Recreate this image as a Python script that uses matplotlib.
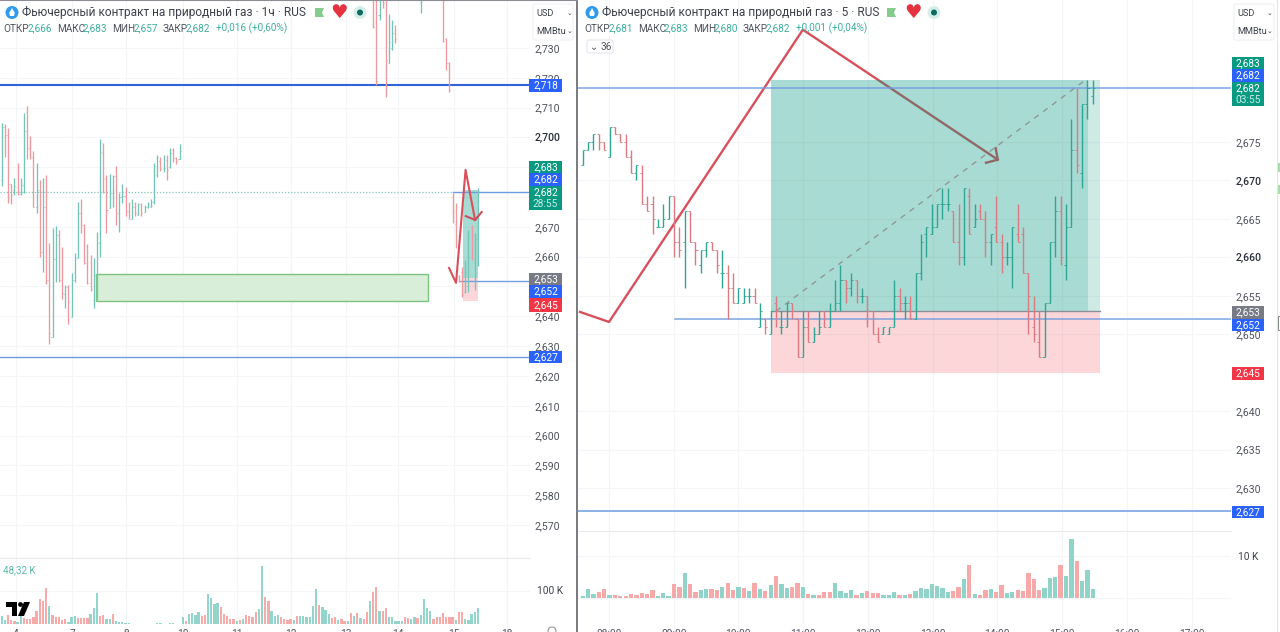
import matplotlib
matplotlib.use("Agg")
import matplotlib.pyplot as plt
from matplotlib.patches import Rectangle, FancyBboxPatch, Circle, Polygon

plt.rcParams['font.family'] = ['Roboto', 'DejaVu Sans']

# ---------- 1h panel data (prices in thousandths) ----------
h1_idx = list(range(57)) + [117, 118, 119, 120, 121, 122, 123, 124, 132, 139, 140, 141,
                            142, 143, 144, 145, 146, 147, 148, 149, 150]
h1_open = [2685.7, 2703.6, 2700.8, 2684.4, 2682.4, 2683.3, 2681.0, 2684.0, 2702.3, 2696.3,
           2693.5, 2676.8, 2682.2, 2661.7, 2676.8, 2652.2, 2633.2, 2659.2, 2667.3, 2652.2,
           2647.5, 2649.7, 2639.7, 2652.2, 2659.4, 2674.5, 2670.6, 2657.8, 2651.3, 2645.5,
           2653.9, 2664.5, 2694.7, 2686.3, 2676.2, 2681.3, 2687.1, 2674.5, 2680.1, 2680.4,
           2675.4, 2672.5, 2676.6, 2674.0, 2677.7, 2675.1, 2676.6, 2676.8, 2678.5, 2687.4,
           2692.2, 2689.3, 2692.4, 2690.2, 2695.8, 2693.0, 2692.7,
           2760, 2760, 2741, 2760, 2760, 2725, 2730, 2735, 2745, 2760, 2733, 2725,
           2680, 2671, 2653.5, 2655, 2648, 2650, 2668, 2654, 2666]
h1_high = [2704.7, 2704.5, 2703.0, 2684.4, 2686.5, 2691.3, 2686.5, 2708.3, 2710.5, 2700.5,
           2695.6, 2691.3, 2685.7, 2686.3, 2687.4, 2664.5, 2669.5, 2670.3, 2668.9, 2663.4,
           2650.5, 2650.5, 2654.4, 2661.3, 2678.5, 2679.2, 2671.0, 2664.3, 2660.6, 2659.4,
           2668.2, 2699.4, 2698.0, 2687.4, 2687.7, 2687.4, 2690.5, 2681.3, 2684.4, 2683.3,
           2678.5, 2679.2, 2678.5, 2678.1, 2678.1, 2677.5, 2678.5, 2679.2, 2691.3, 2694.1,
           2693.3, 2694.1, 2694.1, 2696.3, 2696.6, 2693.5, 2697.7,
           2765, 2765, 2765, 2765, 2765, 2741.4, 2739.4, 2737.7, 2765, 2765, 2733.2, 2725.4,
           2681.2, 2678.1, 2653.8, 2656.6, 2658.9, 2668.9, 2670.6, 2667.8, 2683]
h1_low = [2683.7, 2693.5, 2677.9, 2677.7, 2680.7, 2680.7, 2680.7, 2681.3, 2692.7, 2692.7,
          2676.6, 2674.5, 2660.0, 2654.8, 2650.8, 2630.7, 2633.0, 2651.6, 2651.6, 2645.7,
          2642.7, 2637.4, 2639.7, 2651.6, 2659.4, 2667.8, 2657.6, 2650.8, 2648.6, 2642.7,
          2645.5, 2660.0, 2681.3, 2667.8, 2676.2, 2676.6, 2670.6, 2668.4, 2677.9, 2673.7,
          2672.5, 2672.5, 2673.7, 2674.0, 2673.7, 2675.1, 2676.2, 2676.6, 2677.7, 2686.6,
          2688.9, 2688.5, 2685.7, 2689.6, 2691.9, 2691.1, 2692.7,
          2736.6, 2717.6, 2739.4, 2743.3, 2713.7, 2724.9, 2729.3, 2731.6, 2741.6, 2732.1, 2722.6, 2715.4,
          2671.2, 2662.8, 2651.6, 2646.6, 2647.7, 2648.2, 2658.9, 2648.8, 2657]
h1_close = [2703.6, 2700.8, 2684.4, 2680.7, 2683.7, 2681.0, 2684.0, 2702.3, 2696.3, 2693.5,
            2676.8, 2682.2, 2661.7, 2676.8, 2652.2, 2634.3, 2659.2, 2667.3, 2652.2, 2647.7,
            2649.7, 2644.7, 2652.2, 2659.4, 2674.5, 2670.6, 2657.8, 2651.3, 2649.0, 2653.9,
            2664.5, 2695.2, 2686.0, 2675.7, 2681.3, 2687.1, 2674.5, 2680.1, 2680.4, 2675.4,
            2672.5, 2676.6, 2674.8, 2677.7, 2674.5, 2676.8, 2677.3, 2678.5, 2690.5, 2693.5,
            2689.3, 2689.6, 2689.1, 2694.9, 2693.0, 2692.1, 2695.6,
            2737, 2719, 2760, 2745, 2726, 2732, 2735, 2733, 2760, 2732.5, 2725, 2716,
            2675, 2667, 2652, 2647, 2655, 2660, 2664, 2666, 2682]
h1_vol = [25, 12, 28, 12, 10, 5, 25, 18, 14, 15, 22, 40, 75, 68, 107, 55, 28, 22, 22, 12,
          15, 5, 20, 25, 18, 17, 17, 17, 30, 48, 92, 25, 27, 15, 15, 30, 10, 7, 7, 3,
          2, 1, 1, 1, 1, 1, 1, 1, 1, 2, 2, 1, 1, 2, 2, 1, 1, 20, 10, 30,
          33, 28, 35, 25, 28, 90, 78, 60, 62, 50, 30, 25, 15, 15, 10, 12, 15, 28, 25, 22,
          35, 45, 175, 80, 68, 38, 25, 28, 20, 15, 12, 15, 12, 25, 25, 25, 22, 20, 55, 105,
          58, 50, 42, 30, 18, 20, 12, 15, 10, 8, 32, 25, 32, 18, 15, 35, 68, 95, 110, 40,
          40, 48, 20, 20, 10, 8, 8, 22, 18, 15, 20, 18, 28, 75, 48, 38, 15, 22, 22, 32,
          20, 20, 22, 12, 35, 35, 15, 13, 30, 35, 48.32]
h1_vol_dir = ("ggrrrggrrr" "rrrrrgrrrr" "rgggrrrrgg" "grrggrgggg" "gggggggggg"
              "ggggggggrg" "gggrrggggr" "rrrrgrgrrr" "rggrrgggrr" "rrgrgggggg"
              "rgggrrgrrg" "rgrgrrgrrg" "rrgggggrrg" "grggggrrrr" "rrrgrrggggg")

# ---------- 5m panel data (thousandths above 2,000) ----------
M5_BASE = 2000
m5_open = [672, 674, 675, 676, 675, 673, 677, 676, 675, 673, 671, 671, 667, 667, 664, 664, 665, 668, 662, 662,
           666, 662, 659, 661, 662, 661, 658, 658, 656, 654, 654, 655, 655, 651, 652, 650, 654, 651, 651, 654,
           652, 647, 651, 649, 650, 653, 651, 653, 654, 657, 656, 657, 655, 655, 653, 650, 650, 650, 651, 655,
           654, 654, 652, 658, 663, 663, 664, 667, 667, 666, 662, 660, 668, 664, 666, 665, 662, 664, 662, 660,
           660, 663, 663, 658, 651, 649, 647, 654, 662, 666, 659, 664, 674, 671, 680, 681]
m5_high = [674, 675, 676, 676, 675, 677, 677, 676, 676, 674, 672, 672, 668, 668, 665, 667, 668, 668, 664, 666,
           666, 662, 661, 662, 662, 661, 661, 659, 658, 656, 656, 656, 656, 654, 652, 653, 655, 653, 654, 654,
           652, 653, 653, 651, 653, 653, 654, 657, 659, 657, 658, 657, 656, 655, 653, 651, 651, 651, 657, 656,
           655, 655, 658, 663, 664, 667, 667, 669, 669, 666, 667, 669, 669, 667, 667, 666, 663, 668, 663, 662,
           664, 667, 664, 658, 655, 653, 654, 662, 668, 668, 667, 678, 682, 680, 683, 683]
m5_low = [672, 674, 674, 674, 674, 673, 676, 675, 673, 671, 670, 667, 666, 663, 664, 664, 665, 660, 660, 656,
          662, 659, 658, 660, 661, 658, 656, 652, 654, 654, 654, 654, 654, 651, 650, 650, 651, 650, 651, 652,
          647, 647, 649, 649, 650, 651, 651, 653, 653, 654, 655, 654, 654, 651, 650, 649, 650, 650, 651, 653,
          652, 652, 652, 657, 660, 663, 664, 665, 666, 662, 659, 659, 663, 664, 665, 660, 659, 662, 658, 659,
          656, 662, 658, 650, 649, 647, 647, 654, 660, 659, 657, 664, 671, 669, 678, 680]
m5_close = [674, 675, 676, 675, 674, 677, 676, 675, 673, 671, 672, 667, 666, 665, 664, 665, 668, 662, 661, 666,
            662, 661, 661, 662, 661, 659, 658, 656, 654, 656, 655, 655, 654, 653, 651, 653, 653, 651, 654, 653,
            647, 651, 649, 650, 651, 651, 653, 654, 657, 656, 657, 655, 655, 653, 650, 649, 651, 651, 655, 654,
            654, 652, 658, 662, 664, 664, 667, 667, 667, 662, 660, 669, 663, 665, 665, 662, 663, 662, 660, 660,
            664, 662, 658, 655, 650, 647, 654, 662, 666, 660, 664, 674, 672, 680, 682, 682]
m5_vol = [.48, 2.24, .96, 1.44, 2.08, .64, .64, .4, .56, .96,
          .8, 1.2, 1.04, 1.84, .56, 1.2, .56, 3.44, 2.56, 6.0,
          3.44, 1.36, 1.92, 2.08, 2.16, 1.84, 2.72, 3.6, 1.92, 2.64,
          2.48, 1.76, 3.6, 2.08, 1.6, 3.04, 5.36, 3.44, 2.4, 2.72,
          3.6, 2.64, .96, .8, .8, 1.36, 1.44, 3.6, 1.76, 1.2,
          1.92, .64, 1.2, 1.76, 1.2, 1.28, .8, .64, 1.36, .64,
          .64, .96, 1.76, 2.4, 2.24, 3.44, 2.8, 2.4, 1.44, 1.6,
          2.64, 4.64, 7.84, 1.04, .64, 1.84, 2.16, 1.36, 3.2, 1.2,
          1.44, 1.92, 1.76, 6.0, 4.56, 1.92, 2.4, 4.8, 4.96, 7.84,
          5.2, 14.24, 8.96, 4.0, 6.8, 2.16]
m5_vol_dir = ("gggrrgrrrr" "rrrrgggrrg" "rrggrrgrrg" "rgrgrgrggr" "rgrgrrrggg"
              "grgrrrgggr" "grgggggggr" "rgrgrrgrrg" "grrrrrgggr" "ggrggg")

h1_ticks = [2730, 2720, 2710, 2700, 2690, 2680, 2670, 2660, 2650, 2640, 2630, 2620, 2610, 2600, 2590, 2580, 2570]
m5_ticks = [2675, 2670, 2665, 2660, 2655, 2650, 2640, 2635, 2630]
h1_bold = [2700]
m5_bold = [2670, 2660]
h1_grid_x = [16, 72, 126, 183, 237, 291, 346, 398, 454, 507]
h1_xlabels = ['4', '7', '8', '10', '11', '12', '13', '14', '15', '18']
m5_grid_x = [609, 674, 738, 803, 868, 933, 997, 1062, 1127, 1192]
m5_xlabels = ['08:00', '09:00', '10:00', '11:00', '12:00', '13:00', '14:00', '15:00', '16:00', '17:00']

W, H = 1280, 632
fig = plt.figure(figsize=(W / 100, H / 100), dpi=100, facecolor='white')


def pane(x0, y0, x1, y1):
    ax = fig.add_axes([x0 / W, 1 - y1 / H, (x1 - x0) / W, (y1 - y0) / H])
    for s in ax.spines.values():
        s.set_visible(False)
    return ax


L_X0, L_DX = 1.7, 3.175
R_X0, R_DX = 582.7, 5.37
GRID = '#f4f5f7'
TXT = '#50535e'


def ohlc(ax, xs, o, h, l, c, green, red, tick, lw):
    for x, a, b, d, e in zip(xs, o, h, l, c):
        col = green if e >= a else red
        ax.plot([x, x], [d, b], color=col, lw=lw, solid_capstyle='butt', zorder=5)
        ax.plot([x - tick, x], [a, a], color=col, lw=lw * .65, solid_capstyle='butt', zorder=5)
        ax.plot([x, x + tick], [e, e], color=col, lw=lw * .65, solid_capstyle='butt', zorder=5)


def setup_price(ax, ticks, bold, gridx, x0, dx, pad):
    ax.yaxis.tick_right()
    ax.set_yticks(ticks)
    ax.set_yticklabels([f"{t / 1000:.3f}".replace('.', ',') for t in ticks], fontsize=7.6, color=TXT)
    for lab, t in zip(ax.get_yticklabels(), ticks):
        if t in bold:
            lab.set_color('#2a2e39')
            lab.set_fontweight('medium')
    ax.tick_params(axis='y', length=0, pad=pad)
    ax.set_xticks([(g - x0) / dx for g in gridx])
    ax.tick_params(axis='x', length=0, labelbottom=False)
    ax.grid(True, color=GRID, lw=.8, zorder=0)
    ax.set_axisbelow(True)


# ========== left price pane ==========
ax1 = pane(0, 0, 530, 557)
ax1.set_xlim((0 - L_X0) / L_DX, (530 - L_X0) / L_DX)
ax1.set_ylim(2730 - (557 - 48) / 2.981, 2730 + 48 / 2.981)
setup_price(ax1, h1_ticks, h1_bold, h1_grid_x, L_X0, L_DX, 3)
ax1.add_patch(Rectangle((145.3, 2653), 4.8, 29.5, fc='#089981', alpha=.35, lw=0, zorder=2))
ax1.add_patch(Rectangle((145.3, 2645), 4.8, 8, fc='#f23645', alpha=.2, lw=0, zorder=2))
ax1.add_patch(Rectangle((29.7, 2645.1), 104.6, 9.1, fc='#d8eed8', ec='#7cc47f', lw=1, zorder=3))
ax1.axhline(2717.5, color='#2f63d8', lw=1.5, zorder=4)
ax1.axhline(2626.5, color='#6f9ce0', lw=1, zorder=4)
ax1.plot([(0 - L_X0) / L_DX, 142.2], [2681.7, 2681.7], color='#7cc8bd', lw=.9, ls=(0, (1, 1.5)), zorder=2)
ax1.plot([142.2, 166], [2681.7, 2681.7], color='#6f9ce0', lw=1, zorder=4)
ax1.plot([144, 166], [2651.7, 2651.7], color='#6f9ce0', lw=1, zorder=4)
ohlc(ax1, h1_idx, h1_open, h1_high, h1_low, h1_close, '#74c4b8', '#ee98a0', .33, .95)
ax1.plot([140.9, 143.1, 146.1, 149.1], [2656.2, 2651.2, 2689.1, 2672.3], color='#d8505c', lw=1.5, zorder=6)
ax1.plot([146.2, 149.1, 151.2], [2673.6, 2672.3, 2675.0], color='#c9505c', lw=1.5, zorder=6)

# ========== left volume pane ==========
av1 = pane(0, 557, 530, 632)
av1.set_xlim((0 - L_X0) / L_DX, (530 - L_X0) / L_DX)
av1.set_ylim(-24, 201)
av1.set_xticks([(g - L_X0) / L_DX for g in h1_grid_x])
av1.set_yticks([100])
av1.tick_params(length=0, labelbottom=False, labelleft=False)
av1.grid(True, color=GRID, lw=.8)
av1.set_axisbelow(True)
av1.bar(range(len(h1_vol)), h1_vol, width=.72,
        color=['#94d5cb' if d == 'g' else '#f6aaa9' for d in h1_vol_dir], lw=0, zorder=3)

# ========== right price pane ==========
ax2 = pane(578, 0, 1231, 530)
ax2.set_xlim((578 - R_X0) / R_DX, (1231 - R_X0) / R_DX)
ax2.set_ylim(2675 - (530 - 142) / 7.69, 2675 + 142 / 7.69)
setup_price(ax2, m5_ticks, m5_bold, m5_grid_x, R_X0, R_DX, 3)
ax2.plot([-0.5, 4.9, 41, 77.3], [2652.9, 2651.6, 2689.6, 2672.7], color='#d8505c', lw=1.7, zorder=1.5)
ax2.plot([75.1, 77.3, 76.9], [2672.3, 2672.7, 2674.2], color='#d8505c', lw=1.7, zorder=1.5)
ax2.add_patch(Rectangle((35, 2653), 59.1, 30, fc='#089981', alpha=.35, lw=0, zorder=2))
ax2.add_patch(Rectangle((94.1, 2653), 2.2, 30, fc='#089981', alpha=.2, lw=0, zorder=2))
ax2.add_patch(Rectangle((35, 2645), 61.3, 8, fc='#f23645', alpha=.2, lw=0, zorder=2))
ax2.plot([35, 96.3], [2653, 2653], color='#8c8f9a', lw=1, zorder=3)
ax2.plot([36, 93.5], [2653, 2683], color='#8f9a98', lw=1, ls=(0, (4, 4)), zorder=3)
ax2.axhline(2682, color='#6f9ce0', lw=1.1, alpha=.9, zorder=4)
ax2.plot([17.1, 125], [2652, 2652], color='#6f9ce0', lw=1.1, alpha=.9, zorder=4)
ax2.axhline(2627, color='#6f9ce0', lw=1.1, zorder=4)
ohlc(ax2, range(len(m5_open)),
     [v + M5_BASE for v in m5_open], [v + M5_BASE for v in m5_high],
     [v + M5_BASE for v in m5_low], [v + M5_BASE for v in m5_close],
     '#2fa594', '#dc7a82', .38, 1.0)

# ========== right volume pane ==========
av2 = pane(578, 530, 1231, 632)
av2.set_xlim((578 - R_X0) / R_DX, (1231 - R_X0) / R_DX)
av2.set_ylim(-8.15, 16.3)
av2.set_xticks([(g - R_X0) / R_DX for g in m5_grid_x])
av2.set_yticks([0, 10])
av2.tick_params(length=0, labelbottom=False, labelleft=False)
av2.grid(True, color=GRID, lw=.8)
av2.set_axisbelow(True)
av2.bar(range(len(m5_vol)), m5_vol, width=.8,
        color=['#8fd3c9' if d == 'g' else '#f6a9a8' for d in m5_vol_dir], lw=0, zorder=3)

# ========== overlay in pixel coordinates ==========
ov = fig.add_axes([0, 0, 1, 1], zorder=20)
ov.set_xlim(0, W)
ov.set_ylim(H, 0)
ov.axis('off')
ov.patch.set_alpha(0)


def T(x, y, s, size=7.3, color=TXT, ha='left', va='center', **kw):
    ov.text(x, y, s, fontsize=size, color=color, ha=ha, va=va, **kw)


def tag(x0, x1, y0, y1, color, lines, tcolor='white'):
    ov.add_patch(Rectangle((x0, y0), x1 - x0, y1 - y0, fc=color, lw=0, zorder=5))
    n = len(lines)
    for k, s in enumerate(lines):
        T((x0 + x1) / 2, y0 + (y1 - y0) * (k + .5) / n, s, size=7.3, color=tcolor if k == 0 else '#c9efe7',
          ha='center', zorder=6)


GREEN, BLUE, GRAY, RED = '#089981', '#2962ff', '#787b86', '#f23645'
tag(529, 562, 79, 92, BLUE, ['2,718'])
tag(529, 562, 161, 173, GREEN, ['2,683'])
tag(529, 562, 173, 186, BLUE, ['2,682'])
tag(529, 562, 186, 210, GREEN, ['2,682', '28:55'])
tag(529, 562, 273, 285, GRAY, ['2,653'])
tag(529, 562, 285, 298, BLUE, ['2,652'])
tag(529, 562, 298, 312, RED, ['2,645'])
tag(529, 562, 351, 363, BLUE, ['2,627'])
tag(1232, 1264, 57, 69, GREEN, ['2,683'])
tag(1232, 1264, 69, 82, BLUE, ['2,682'])
tag(1232, 1264, 82, 106, GREEN, ['2,682', '03:55'])
tag(1232, 1264, 306, 319, GRAY, ['2,653'])
tag(1232, 1264, 319, 331, BLUE, ['2,652'])
tag(1232, 1264, 367, 380, RED, ['2,645'])
tag(1232, 1264, 506, 518, BLUE, ['2,627'])


def header(x, title, flag_x, heart_x, circ_x, items):
    ov.add_patch(Circle((x + 9, 12.5), 6.5, fc='#2f9bf0', lw=0))
    ov.add_patch(Polygon([(x + 9, 8), (x + 6.2, 13), (x + 7, 16), (x + 11, 16), (x + 11.8, 13)], fc='white', lw=0))
    T(x + 19, 12.5, title, size=8.55, color='#3d404b')
    ov.add_patch(Polygon([(flag_x, 8), (flag_x + 9, 8), (flag_x + 7, 12.5), (flag_x + 9, 17), (flag_x, 17)],
                         fc='#84cb8e', lw=0))
    T(heart_x, 12.5, '♥', size=14, color='#e5323f', ha='center', family='DejaVu Sans')
    ov.add_patch(Circle((circ_x, 12.5), 6.5, fc='#d6eeea', lw=0))
    ov.add_patch(Circle((circ_x, 12.5), 3, fc='#0b6b5f', lw=0))
    for px, s, c in items:
        T(px, 28.5, s, size=7.2, color=c)


TEAL = '#3fae9f'
header(3, 'Фьючерсный контракт на природный газ · 1ч · RUS', 315, 339, 360, [
    (3, 'ОТКР', TXT), (28, '2,666', TEAL), (57, 'МАКС', TXT), (83, '2,683', TEAL), (112, 'МИН', TXT),
    (134, '2,657', TEAL), (163, 'ЗАКР', TXT), (186, '2,682', TEAL), (216, '+0,016 (+0,60%)', TEAL)])
header(583, 'Фьючерсный контракт на природный газ · 5 · RUS', 887, 913, 934, [
    (584, 'ОТКР', TXT), (609, '2,681', TEAL), (638, 'МАКС', TXT), (664, '2,683', TEAL), (693, 'МИН', TXT),
    (714, '2,680', TEAL), (743, 'ЗАКР', TXT), (766, '2,682', TEAL), (796, '+0,001 (+0,04%)', TEAL)])

ov.add_patch(FancyBboxPatch((587, 40), 26, 13, boxstyle='round,pad=0,rounding_size=2', fc='white', ec='#e3e5ea', lw=.8))
T(590, 46.5, '⌄', size=7, family='DejaVu Sans', va='center')
T(601, 46.5, '36', size=7.3)

for bx in (533, 1234):
    ov.add_patch(FancyBboxPatch((bx, 4), 40, 36, boxstyle='round,pad=0,rounding_size=2', fc='white', ec='#eef0f3', lw=.8))
    T(bx + 3, 13, 'USD', size=6.6, color='#3d404b')
    T(bx + 3, 32, 'MMBtu', size=6.6, color='#3d404b')
    T(bx + 36, 13, '⌄', size=5, color='#3d404b', ha='center', family='DejaVu Sans')
    T(bx + 36, 31, '⌄', size=5, color='#3d404b', ha='center', family='DejaVu Sans')

T(3, 570.5, '48,32 K', size=7, color='#5bb8ab')
T(537, 591, '100 K', size=7.3, color='#3d404b')
T(1238, 556.5, '10 K', size=7.3, color='#3d404b')

ov.plot([0, 530], [557.5, 557.5], color='#e8e9ed', lw=.8)
ov.plot([578, 1231], [531, 531], color='#e8e9ed', lw=.8)
ov.plot([577, 577], [0, H], color='#6d6f76', lw=1.3)
ov.plot([0, 577], [.4, .4], color='#8b8d93', lw=.8)
ov.plot([1277, 1277], [0, H], color='#e4e5e8', lw=.8)
for yy in (163, 185):
    ov.add_patch(Rectangle((1277.5, yy), 2.5, 9, fc='#a8dca8', lw=0))
ov.add_patch(Rectangle((1277.5, 316), 2.5, 14, fc='white', ec='#7f8a7f', lw=.7))
ov.add_patch(Circle((552, 631), 4, fc='white', ec='#8b8d93', lw=.7))

ov.add_patch(Polygon([(6, 602), (17, 602), (17, 616), (12, 616), (12, 607), (6, 607)], fc='black', lw=0))
ov.add_patch(Circle((20.5, 604.5), 2.4, fc='black', lw=0))
ov.add_patch(Polygon([(24, 602), (30, 602), (24, 616), (18, 616)], fc='black', lw=0))

for px, s in zip(h1_grid_x, h1_xlabels):
    T(px, 629, s, size=7.3, color='#50535e', ha='center', va='top')
for px, s in zip(m5_grid_x, m5_xlabels):
    T(px, 629, s, size=7.3, color='#50535e', ha='center', va='top')

fig.savefig('out.png', dpi=100, facecolor='white')
